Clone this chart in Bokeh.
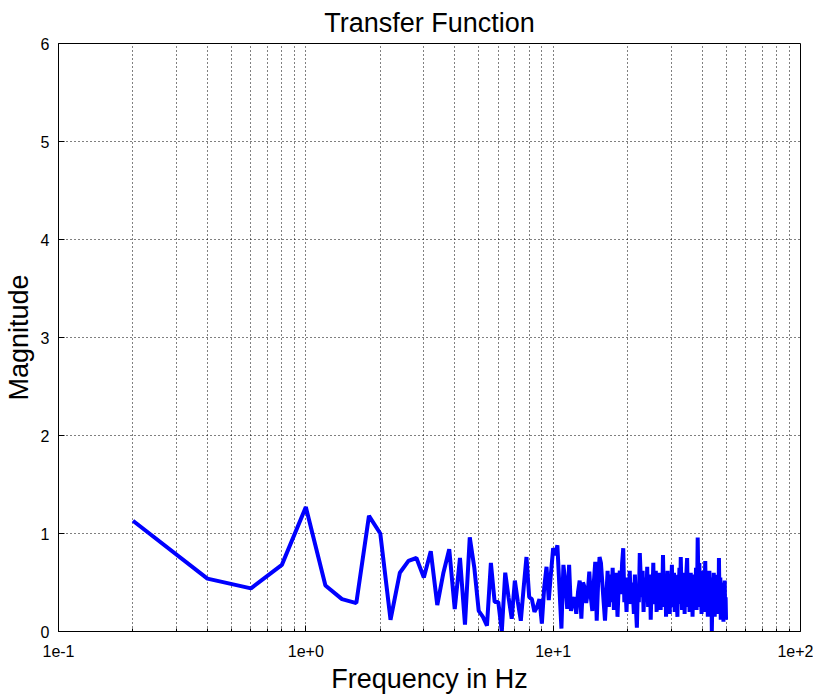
from bokeh.plotting import figure
from bokeh.models import FixedTicker
from bokeh.embed import file_html
from bokeh.resources import INLINE

# Frequency grid (Hz)
freq_start = 0.2
freq_step = 0.2
n_points = 250
freq = [round(freq_start + freq_step * i, 1) for i in range(n_points)]

# Magnitude values
magnitude = [
    1.13, 0.54, 0.44, 0.68, 1.27, 0.47, 0.33, 0.29, 1.18, 1.00,
    0.12, 0.60, 0.72, 0.75, 0.55, 0.82, 0.27, 0.60, 0.84, 0.23,
    0.75, 0.07, 0.96, 0.65, 0.21, 0.15, 0.06, 0.70, 0.30, 0.30,
    0.00, 0.60, 0.35, 0.13, 0.52, 0.30, 0.11, 0.45, 0.76, 0.35,
    0.33, 0.20, 0.25, 0.33, 0.08, 0.45, 0.66, 0.32, 0.60, 0.85,
    0.78, 0.88, 0.45, 0.03, 0.68, 0.50, 0.23, 0.68, 0.21, 0.30,
    0.35, 0.18, 0.40, 0.52, 0.13, 0.50, 0.45, 0.29, 0.40, 0.61,
    0.35, 0.21, 0.50, 0.71, 0.11, 0.50, 0.76, 0.70, 0.50, 0.30,
    0.11, 0.35, 0.62,
    0.25, 0.58, 0.30, 0.65, 0.22, 0.48, 0.60, 0.15, 0.45, 0.62,
    0.38, 0.70, 0.85, 0.30, 0.45, 0.20, 0.55, 0.35, 0.62, 0.28,
    0.50, 0.40, 0.18, 0.58, 0.25, 0.04, 0.45, 0.30, 0.80, 0.55,
    0.35, 0.62, 0.20, 0.48, 0.55, 0.30, 0.66, 0.25, 0.40, 0.58,
    0.12, 0.50, 0.35, 0.70, 0.28, 0.45, 0.62, 0.20, 0.38, 0.55,
    0.30, 0.60, 0.22, 0.48, 0.35, 0.78, 0.40, 0.25, 0.58, 0.15,
    0.45, 0.62, 0.30, 0.50, 0.18, 0.55, 0.40, 0.68, 0.25, 0.35,
    0.60, 0.20, 0.45, 0.52, 0.30, 0.15, 0.58, 0.40, 0.65, 0.28,
    0.76, 0.45, 0.22, 0.55, 0.35, 0.60, 0.18, 0.48, 0.30, 0.62,
    0.75, 0.40, 0.25, 0.55, 0.20, 0.45, 0.60, 0.30, 0.50, 0.15,
    0.40, 0.58, 0.28, 0.52, 0.35, 0.65, 0.22, 0.45, 0.96, 0.60,
    0.35, 0.70, 0.25, 0.50, 0.40, 0.18, 0.62, 0.45, 0.30, 0.55,
    0.20, 0.48, 0.72, 0.35, 0.25, 0.58, 0.40, 0.15, 0.50, 0.30,
    0.62, 0.45, 0.20, 0.38, 0.55, 0.00, 0.30, 0.48, 0.25, 0.60,
    0.35, 0.15, 0.52, 0.40, 0.22, 0.58, 0.45, 0.30, 0.50, 0.18,
    0.75, 0.40, 0.25, 0.55, 0.12, 0.45, 0.30, 0.50, 0.20, 0.42,
    0.10, 0.48, 0.28, 0.52, 0.15, 0.35, 0.12,
]

x_major = [0.1, 1, 10, 100]
x_minor = [round(m * d, 3) for d in (0.1, 1, 10) for m in range(2, 10)]
x_labels = {0.1: "1e-1", 1: "1e+0", 10: "1e+1", 100: "1e+2"}
y_ticks = [0, 1, 2, 3, 4, 5, 6]

FONT = "Liberation Sans"

p = figure(width=813, height=696, x_axis_type="log",
           x_range=(0.1, 100), y_range=(0, 6),
           output_backend="svg", toolbar_location=None,
           title="Transfer Function",
           min_border_left=56, min_border_right=13,
           min_border_top=43, min_border_bottom=65)

p.background_fill_color = "white"
p.border_fill_color = "white"
p.outline_line_color = "black"
p.outline_line_width = 1

p.title.align = "center"
p.title.text_font = FONT
p.title.text_font_size = "27px"
p.title.text_font_style = "normal"
p.title.text_color = "black"
p.title.standoff = 11

xticker = FixedTicker(ticks=x_major, minor_ticks=x_minor)
yticker = FixedTicker(ticks=y_ticks, minor_ticks=[])

xa = p.xaxis[0]
xa.ticker = xticker
xa.major_label_overrides = x_labels
ya = p.yaxis[0]
ya.ticker = yticker

for ax in (xa, ya):
    ax.axis_line_color = "black"
    ax.major_tick_line_color = "black"
    ax.minor_tick_line_color = "black"
    ax.major_tick_in = 6
    ax.major_tick_out = 0
    ax.minor_tick_in = 3
    ax.minor_tick_out = 0
    ax.major_label_text_font = FONT
    ax.major_label_text_font_size = "16px"
    ax.major_label_text_color = "black"
    ax.axis_label_text_font = FONT
    ax.axis_label_text_font_size = "27px"
    ax.axis_label_text_font_style = "normal"
    ax.axis_label_text_color = "black"

xa.major_label_standoff = 13
ya.major_label_standoff = 9
xa.axis_label = "Frequency in Hz"
ya.axis_label = "Magnitude"
xa.axis_label_standoff = 4
ya.axis_label_standoff = 4

# grid
p.xgrid.ticker = xticker
p.ygrid.ticker = yticker
for g in (p.xgrid[0], p.ygrid[0]):
    g.grid_line_color = "black"
    g.grid_line_dash = "1 3"
    g.grid_line_width = 1
    g.grid_line_alpha = 1.0
p.xgrid[0].minor_grid_line_color = "black"
p.xgrid[0].minor_grid_line_dash = "1 3"
p.xgrid[0].minor_grid_line_width = 1

p.line(freq, magnitude, line_color="#0000FF", line_width=4)

with open("out.html", "w") as f:
    f.write(file_html(p, INLINE))
